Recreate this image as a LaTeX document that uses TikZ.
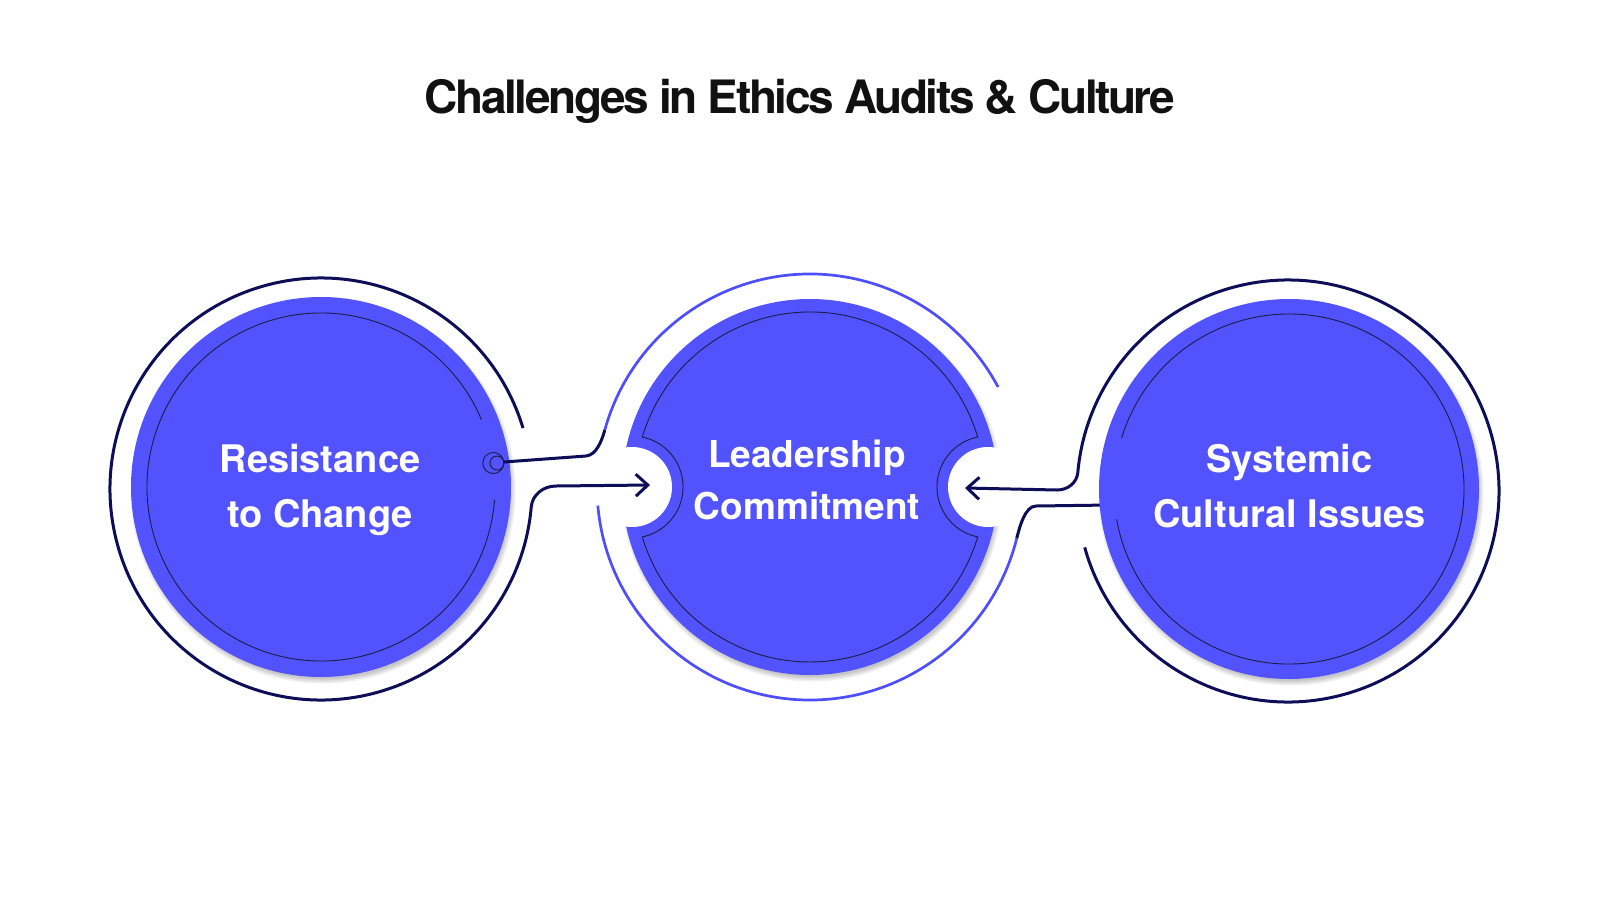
\documentclass[tikz,border=0pt]{standalone}
\usepackage{fontspec}
\usepackage{graphicx}
\setmainfont{TeX Gyre Heros}
\newfontfamily\titlefont[LetterSpace=-5.3]{TeX Gyre Heros}
\usetikzlibrary{arrows.meta,calc}
\definecolor{fillblue}{RGB}{82,82,255}
\definecolor{ringblue}{RGB}{78,78,250}
\definecolor{navy}{RGB}{14,14,88}
\definecolor{thinline}{RGB}{28,28,72}
\definecolor{titleblack}{RGB}{17,17,17}
\begin{document}
\begin{tikzpicture}[x=1pt,y=-1pt,
  disc/.style={fill=fillblue},
  shadowdisc/.style={fill=black,opacity=0.06},
  thinring/.style={draw=thinline,line width=0.9pt},
  outerring/.style={draw=navy,line width=3pt},
  midring/.style={draw=ringblue,line width=2.7pt},
  conn/.style={draw=navy,line width=3pt},
  tip/.style={-{Straight Barb[length=12pt,width=22pt]}},
  circlabel/.style={text=white,font=\fontsize{38}{38}\selectfont\bfseries,anchor=base,inner sep=0pt},
  midlabel/.style={circlabel,font=\fontsize{37}{37}\selectfont\bfseries},
  titlelabel/.style={text=titleblack,font=\titlefont\fontsize{46}{46}\selectfont\bfseries,anchor=base,inner sep=0pt}
]
\useasboundingbox (0,0) rectangle (1600,900);
\fill[white] (0,0) rectangle (1600,900);

% centres
\coordinate (L) at (321,487);
\coordinate (Lr) at (321,489);
\coordinate (M) at (810,487);
\coordinate (R) at (1289,489);
\coordinate (Rr) at (1288,491);
\coordinate (NL) at (632,487);
\coordinate (NR) at (988,487);

% shadows
\foreach \s in {0,1.5,3,4.5}{
  \fill[shadowdisc] ($(L)+(2,4)$) circle[radius=188+\s];
  \fill[shadowdisc] ($(M)+(2,4)$) circle[radius=186+\s];
  \fill[shadowdisc] ($(R)+(2,4)$) circle[radius=188+\s];
}

% connector from right circle (under its disc) to middle ring
\coordinate (jR) at ($(M)+(14:213)$);
\draw[conn] (1110,505) -- (1036,506) .. controls (1025,506) and (1019.6,526.9) .. (jR);

% discs
\fill[disc] (L) circle[radius=190];
\fill[disc] (M) circle[radius=188];
\fill[disc] (R) circle[radius=190];

% notches of the middle disc
\fill[white] (NL) circle[radius=40];
\fill[white] (NR) circle[radius=40];

% thin inner lines
\draw[thinring] ($(L)+(-22.8:174)$) arc[start angle=-22.8,end angle=-355.8,radius=174];
\draw[thinring] ($(R)+(170:175)$) arc[start angle=170,end angle=-163,radius=175];
\draw[thinring] ($(M)+(-16.6:175)$) arc[start angle=-16.6,end angle=-163.4,radius=175]
  arc[start angle=-78.4,end angle=78.4,radius=51]
  arc[start angle=163.4,end angle=16.6,radius=175]
  arc[start angle=101.6,end angle=258.4,radius=51] -- cycle;

% marker on the left disc
\draw[thinring] (493.3,463) circle[radius=10.5];
\draw[thinring] (497,463) circle[radius=7];

% middle ring
\coordinate (jL) at ($(M)+(-164.5:213)$);
\draw[midring] (jL) arc[start angle=-164.5,end angle=-28,radius=213];
\draw[midring] ($(M)+(175:213)$) arc[start angle=175,end angle=14,radius=213];

% left outer ring turning into the arrow
\coordinate (aL) at (650,485);
\draw[outerring,tip] ($(Lr)+(-16.8:211)$) arc[start angle=-16.8,end angle=-355.1,radius=211]
  .. controls (532.2,495) and (543,486) .. (556,486) -- (aL);

% upper left connector from marker to middle ring
\draw[conn] (504,462) -- (586,456) .. controls (596,455) and (601.6,441.7) .. (jL);

% right outer ring turning into the arrow
\coordinate (aR) at (965,488);
\draw[outerring,tip] ($(Rr)+(164.5:211)$) arc[start angle=164.5,end angle=-175,radius=211]
  .. controls (1076.8,482.6) and (1068,490) .. (1057,490) -- (aR);

% texts
\node[titlelabel] (title) at (800,113) {Challenges in Ethics Audits \& Culture};
\node[circlabel] (l1) at (320,472) {Resistance};
\node[circlabel] (l2) at (320,527) {to Change};
\node[midlabel] (m1) at (807,467) {Leadership};
\node[midlabel] (m2) at (807,519) {Commitment};
\node[circlabel] (r1) at (1289.5,472) {Systemic};
\node[circlabel] (r2) at (1289.5,527) {Cultural Issues};
\end{tikzpicture}
\end{document}
